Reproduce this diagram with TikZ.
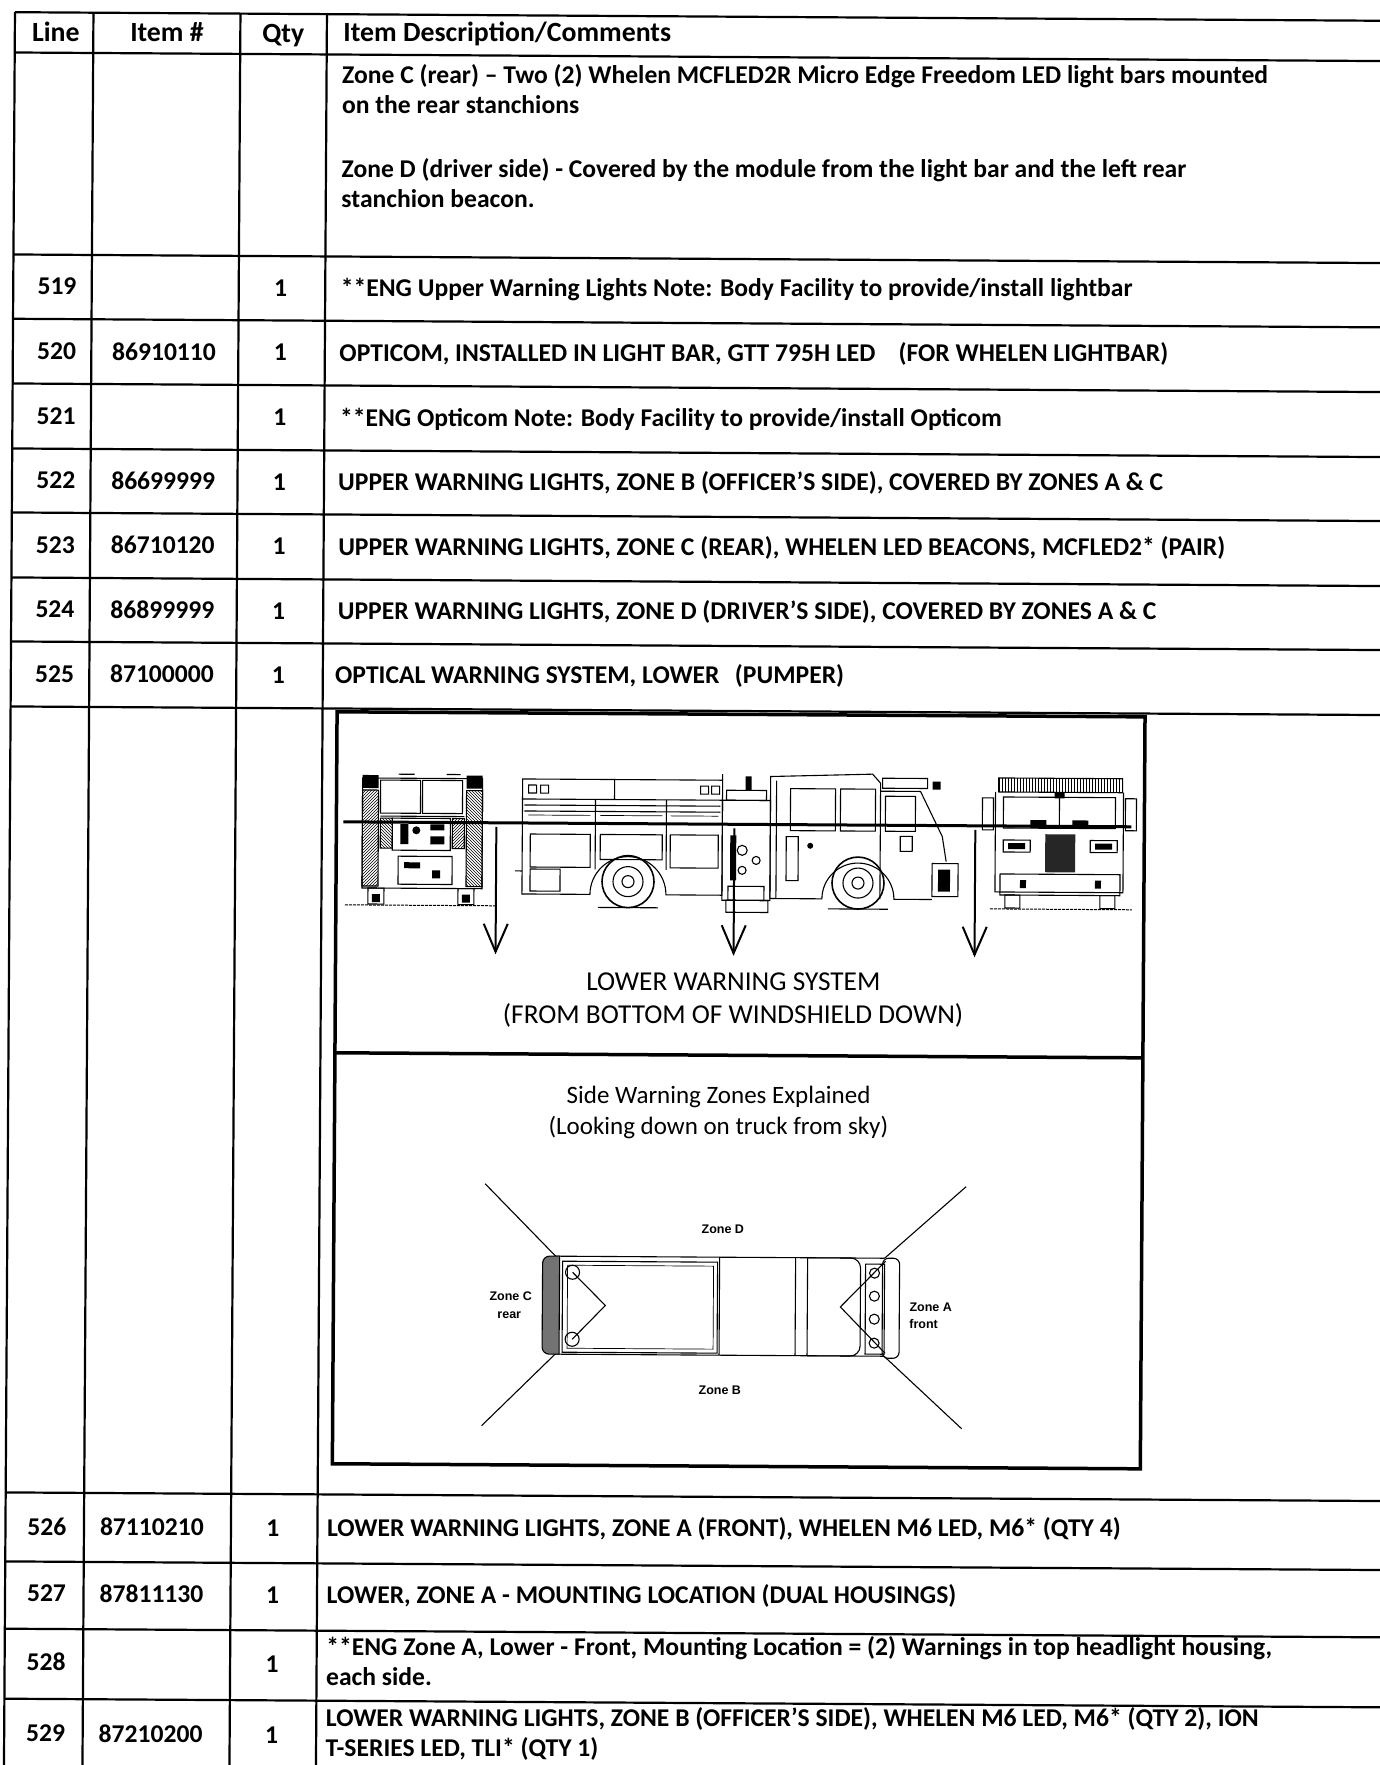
\documentclass[tikz,border=0pt]{standalone}
\usepackage{fontspec}
\setmainfont{Carlito}
\newfontfamily\lsans{Liberation Sans}
\usetikzlibrary{patterns}
\begin{document}
\begin{tikzpicture}[x=1pt,y=-1pt,
  tl/.style={line width=2.2pt},
  bx/.style={line width=3.5pt},
  pic/.style={line width=1.1pt},
  thn/.style={line width=0.7pt},
  cellt/.style={font=\bfseries\fontsize{25.6}{30}\selectfont, inner sep=0pt, anchor=base},
  desct/.style={cellt, anchor=base west},
  hdt/.style={font=\bfseries\fontsize{27.8}{32}\selectfont, inner sep=0pt, anchor=base},
  bigt/.style={font=\fontsize{27.3}{32}\selectfont, inner sep=0pt, anchor=base},
  midt/.style={font=\fontsize{25}{29}\selectfont, inner sep=0pt, anchor=base},
  zt/.style={font=\lsans\bfseries\fontsize{12.5}{14}\selectfont, inner sep=0pt, anchor=base west},
  arr/.style={line width=2pt}]
\useasboundingbox (0,0) rectangle (1380,1765);
\fill[white] (0,0) rectangle (1380,1765);
\begin{scope}
\clip (0,0) rectangle (1380,1765);
\begin{scope}[rotate around={-0.36:(690,882)}]
% ---------------- table grid ----------------
\foreach \v in {16.4,56.7,258.7,323,387.7,452.7,516.7,581.7,645.7,710.7,1496.7,1565.7,1633,1703}
  \draw[tl] (9.5,\v) -- (1400,\v);
\foreach \u in {9.5,88,235,321.5}
  \draw[tl] (\u,16.4) -- (\u,1800);
% ---------------- header ----------------
\node[hdt] (hline) at (50.5,45) {Line};
\node[hdt] (hitem) at (161.7,45) {Item \#};
\node[hdt] (hqty) at (278,45) {Qty};
\node[hdt, anchor=base west] (hdesc) at (338,44) {Item Description/Comments};
% ---------------- zone text block ----------------
\node[desct] (zc1) at (337,85.2) {Zone C (rear) -- Two (2) Whelen MCFLED2R Micro Edge Freedom LED light bars mounted};
\node[desct] (zc2) at (337,115.2) {on the rear stanchions};
\node[desct] (zd1) at (337,179.2) {Zone D (driver side) - Covered by the module from the light bar and the left rear};
\node[desct] (zd2) at (337,209.2) {stanchion beacon.};
% ---------------- rows 519-525 ----------------
\node[cellt] (l519) at (53.3,298.9) {519};
\node[cellt] (q519) at (277,298.9) {1};
\node[desct] (d519) at (337,298.9) {**ENG Upper Warning Lights Note: Body Facility to provide/install lightbar};
\node[cellt] (l520) at (53.3,363.4) {520};
\node[cellt] (i520) at (160.7,363.4) {86910110};
\node[cellt] (q520) at (277,363.4) {1};
\node[desct] (d520) at (336,363.4) {OPTICOM, INSTALLED IN LIGHT BAR, GTT 795H LED\hspace{0.9em}(FOR WHELEN LIGHTBAR)};
\node[cellt] (l521) at (53.3,428.2) {521};
\node[cellt] (q521) at (277,428.2) {1};
\node[desct] (d521) at (337,428.2) {**ENG Opticom Note: Body Facility to provide/install Opticom};
\node[cellt] (l522) at (53.3,492.7) {522};
\node[cellt] (i522) at (160.7,492.7) {86699999};
\node[cellt] (q522) at (277,492.7) {1};
\node[desct] (d522) at (335.5,492.7) {UPPER WARNING LIGHTS, ZONE B (OFFICER'S SIDE), COVERED BY ZONES A \& C};
\node[cellt] (l523) at (53.3,557.2) {523};
\node[cellt] (i523) at (160.7,557.2) {86710120};
\node[cellt] (q523) at (277,557.2) {1};
\node[desct] (d523) at (336,557.2) {UPPER WARNING LIGHTS, ZONE C (REAR), WHELEN LED BEACONS, MCFLED2* (PAIR)};
\node[cellt] (l524) at (53.3,621.7) {524};
\node[cellt] (i524) at (160.7,621.7) {86899999};
\node[cellt] (q524) at (277,621.7) {1};
\node[desct] (d524) at (336,621.7) {UPPER WARNING LIGHTS, ZONE D (DRIVER'S SIDE), COVERED BY ZONES A \& C};
\node[cellt] (l525) at (53.3,686.2) {525};
\node[cellt] (i525) at (160.7,686.2) {87100000};
\node[cellt] (q525) at (277,686.2) {1};
\node[desct] (d525) at (333.7,686.2) {OPTICAL WARNING SYSTEM, LOWER\hspace{0.6em}(PUMPER)};
% ---------------- rows 526-529 ----------------
\node[cellt] (l526) at (51,1539.2) {526};
\node[cellt] (i526) at (156,1539.2) {87110210};
\node[cellt] (q526) at (277,1539.2) {1};
\node[desct] (d526) at (331,1539.2) {LOWER WARNING LIGHTS, ZONE A (FRONT), WHELEN M6 LED, M6* (QTY 4)};
\node[cellt] (l527) at (51,1606) {527};
\node[cellt] (i527) at (156,1606) {87811130};
\node[cellt] (q527) at (277,1606) {1};
\node[desct] (d527) at (331,1606) {LOWER, ZONE A - MOUNTING LOCATION (DUAL HOUSINGS)};
\node[cellt] (l528) at (51,1675) {528};
\node[cellt] (q528) at (277,1675) {1};
\node[desct] (d528a) at (331,1658) {**ENG Zone A, Lower - Front, Mounting Location = (2) Warnings in top headlight housing,};
\node[desct] (d528b) at (331,1688) {each side.};
\node[cellt] (l529) at (51,1746) {529};
\node[cellt] (i529) at (156,1746) {87210200};
\node[cellt] (q529) at (277,1746) {1};
\node[desct] (d529a) at (331,1729) {LOWER WARNING LIGHTS, ZONE B (OFFICER'S SIDE), WHELEN M6 LED, M6* (QTY 2), ION};
\node[desct] (d529b) at (331,1759) {T-SERIES LED, TLI* (QTY 1)};
% ---------------- picture box ----------------
\draw[bx] (336,714) rectangle (1144,1466);
\draw[bx] (336,1055) -- (1144,1055);
% ---- rear view of truck ----
\draw[pic] (362,780) rectangle (482,890);
\draw[pic, pattern=north east lines] (362,792) rectangle (378,888);
\draw[pic, pattern=north west lines] (466,792) rectangle (482,888);
\fill (362,777) rectangle (378,790);
\fill (466,777) rectangle (482,790);
\draw[pic] (398,776) -- (414,776);
\draw[pic] (446,776) -- (460,776);
\draw[pic] (380,782) rectangle (420,815);
\draw[pic] (422,782) rectangle (462,815);
\draw[pic] (380,818) -- (464,818);
\draw[pic, pattern=north west lines] (380,820) rectangle (392,850);
\draw[pic, pattern=north east lines] (452,820) rectangle (464,850);
\draw[pic] (392,820) rectangle (450,852);
\fill (400,826) rectangle (408,846);
\fill (416,832) circle (4);
\fill (430,826) rectangle (444,832);
\fill (430,838) rectangle (444,846);
\draw[pic] (398,858) rectangle (452,886);
\fill (404,864) rectangle (420,870);
\fill (432,872) rectangle (440,880);
\draw[pic] (368,890) rectangle (384,906);
\draw[pic] (458,890) rectangle (474,906);
\fill (372,896) rectangle (380,904);
\fill (462,896) rectangle (470,904);
\draw[line width=1pt, dash pattern=on 3pt off 1pt] (345,907) -- (495,907);
% ---- side view of truck ----
\draw[pic] (522,780) rectangle (722,800);
\draw[pic] (528,786) rectangle (536,794);
\draw[pic] (540,786) rectangle (548,794);
\draw[pic] (700,786) rectangle (708,794);
\draw[pic] (711,786) rectangle (719,794);
\draw[pic] (614,780) -- (614,800);
\draw[pic] (722,774) -- (722,780);
\draw[pic] (522,800) -- (522,895) -- (590,895) arc[start angle=180, end angle=360, radius=38] -- (722,895) -- (722,800);
\draw[pic] (524,806) -- (720,806);
\draw[pic] (524,812) -- (720,812);
\draw[thn] (528,816) -- (590,816);
\draw[thn] (600,816) -- (662,816);
\draw[thn] (670,816) -- (718,816);
\draw[pic] (595,800) -- (595,870);
\draw[pic] (666,800) -- (666,870);
\draw[pic] (530,835) rectangle (590,868);
\draw[pic] (600,835) rectangle (662,860);
\draw[pic] (670,835) rectangle (718,868);
\draw[pic] (530,870) rectangle (560,892);
\draw[pic] (515,872) -- (522,872);
\draw[line width=1.6pt] (628,882) circle (26);
\draw[pic] (628,882) circle (15);
\draw[pic] (628,882) circle (6);
\draw[pic] (598,908) -- (658,908);
% pump panel
\draw[pic] (726,790) rectangle (766,800);
\fill (745,776) rectangle (751,790);
\draw[pic] (722,800) rectangle (770,900);
\draw[pic] (742,850) circle (5);
\draw[pic] (756,860) circle (4);
\draw[pic] (742,870) circle (4);
\fill (730,835) rectangle (736,880);
\draw[pic] (728,886) rectangle (764,900);
\draw[pic] (726,900) rectangle (768,912);
% cab
\draw[pic] (770,898) -- (770,776) -- (872,773) -- (880,782) -- (880,898);
\draw[pic] (790,788) rectangle (835,830);
\draw[pic] (840,788) rectangle (875,830);
\draw[pic] (776,780) -- (776,898);
\draw[pic] (786,836) rectangle (798,880);
\fill (810,845) circle (3);
\draw[pic] (882,777) rectangle (927,787);
\fill (932,780) rectangle (940,788);
\draw[pic] (880,790) -- (920,790) -- (942,835) -- (946,860);
\draw[pic] (885,795) rectangle (915,830);
\draw[pic] (770,898) -- (822,898) arc[start angle=180, end angle=360, radius=36] -- (932,898);
\draw[line width=1.6pt] (858,882) circle (26);
\draw[pic] (858,882) circle (15);
\draw[pic] (858,882) circle (6);
\draw[pic] (828,908) -- (888,908);
\draw[pic] (932,862) rectangle (958,895);
\fill (938,868) rectangle (950,890);
\draw[pic] (900,835) rectangle (912,850);
% ---- front view of truck ----
\draw[pic, pattern=vertical lines] (998,776) rectangle (1122,790);
\draw[pic] (995,790) -- (995,890) -- (1123,890) -- (1123,790);
\draw[pic] (1003,795) rectangle (1115,826);
\draw[pic] (1059,790) -- (1059,826);
\fill (1054,790) rectangle (1064,796);
\draw[pic] (982,796) rectangle (993,828);
\draw[pic] (1125,796) rectangle (1136,828);
\fill (1030,818) rectangle (1046,826);
\fill (1072,818) rectangle (1088,826);
\fill[black!85] (1045,832) rectangle (1075,870);
\draw[pic] (1003,838) rectangle (1030,850);
\fill (1008,841) rectangle (1025,847);
\draw[pic] (1090,838) rectangle (1117,850);
\fill (1095,841) rectangle (1112,847);
\draw[pic] (1000,872) rectangle (1120,893);
\fill (1020,878) rectangle (1026,886);
\fill (1095,878) rectangle (1101,886);
\draw[pic] (1005,893) rectangle (1020,906);
\draw[pic] (1100,893) rectangle (1115,906);
\draw[line width=1pt, dash pattern=on 3pt off 1pt] (990,907) -- (1132,907);
% ---- windshield line and arrows ----
\draw[line width=3pt] (343,824) -- (1131,824);
\foreach \ax in {496,734,975} {
  \draw[arr] (\ax,828) -- (\ax,953);
  \draw[arr] (\ax-12,925) -- (\ax,953) -- (\ax+12,925);
}
\node[bigt] (lws1) at (734,990) {LOWER WARNING SYSTEM};
\node[bigt] (lws2) at (734,1023.5) {(FROM BOTTOM OF WINDSHIELD DOWN)};
% ---------------- lower panel ----------------
\node[midt] (swz1) at (720,1103) {Side Warning Zones Explained};
\node[midt] (swz2) at (720,1134.6) {(Looking down on truck from sky)};
\draw[pic] (558,1257) -- (487,1185);
\draw[pic] (558,1355) -- (485,1427);
\draw[pic] (887,1257) -- (968,1185);
\draw[pic] (887,1355) -- (965,1427);
\draw[pic] (558,1257) -- (887,1257);
\draw[pic] (558,1355) -- (887,1355);
\draw[pic, fill=black!55] (562,1257) -- (552,1257) arc[start angle=270, end angle=180, radius=7] -- (545,1348) arc[start angle=180, end angle=90, radius=7] -- (562,1355) -- cycle;
\draw[pic] (565,1262) rectangle (720,1353);
\draw[thn] (570,1266) rectangle (716,1349);
\draw[pic] (722,1257) -- (722,1355);
\draw[pic] (798,1257) -- (798,1355);
\draw[pic] (810,1257) -- (810,1355);
\draw[pic] (810,1257) -- (853,1257) arc[start angle=270, end angle=360, radius=10] -- (863,1345) arc[start angle=0, end angle=90, radius=10] -- (810,1355);
\draw[pic] (868,1263) rectangle (887,1353);
\foreach \ly in {1272,1295,1318,1342} \draw[pic] (877,\ly) circle (5);
\draw[pic, rounded corners=6pt] (885,1257) rectangle (902,1357);
\draw[pic] (575,1273) circle (7);
\draw[pic] (575,1340) circle (7);
\draw[pic] (575,1273) -- (608,1306) -- (575,1340);
\draw[pic] (888,1260) -- (843,1306) -- (888,1352);
\node[zt, anchor=base] (zD) at (725,1233) {Zone D};
\node[zt, anchor=base] (zB) at (723,1394) {Zone B};
\node[zt] (zC1) at (492,1302) {Zone C};
\node[zt] (zC2) at (500,1320) {rear};
\node[zt] (zA1) at (912,1310) {Zone A};
\node[zt] (zA2) at (912,1327) {front};
\end{scope}
\end{scope}
\end{tikzpicture}
\end{document}
